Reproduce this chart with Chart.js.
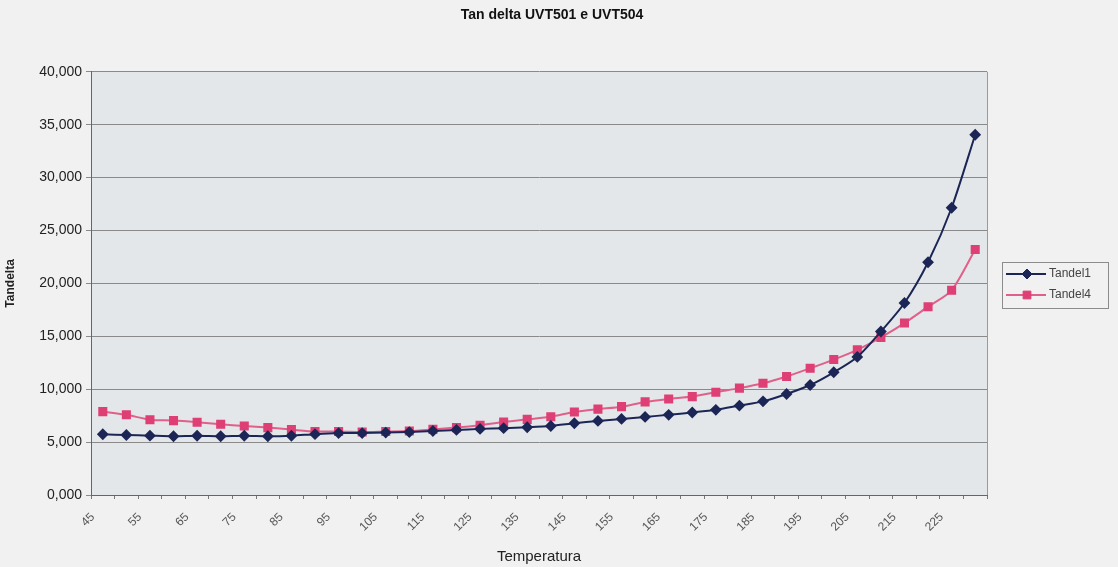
<!DOCTYPE html>
<html>
<head>
<meta charset="utf-8">
<script src="https://cdn.jsdelivr.net/npm/chart.js@4/dist/chart.umd.min.js"></script>
<style>
  html, body { margin: 0; padding: 0; background: #f1f1f1; }
  #wrap { width: 1118px; height: 567px; position: relative; }
</style>
</head>
<body>
<div id="wrap"><canvas id="c" width="1118" height="567"></canvas></div>
<script>
// Temperature steps (°C)
const temperature = [45, 50, 55, 60, 65, 70, 75, 80, 85, 90, 95, 100, 105, 110, 115, 120, 125, 130, 135,
  140, 145, 150, 155, 160, 165, 170, 175, 180, 185, 190, 195, 200, 205, 210, 215, 220, 225, 230];

// Tan delta readings
const tandel1 = [5.74, 5.67, 5.61, 5.55, 5.6, 5.55, 5.6, 5.55, 5.6, 5.75, 5.85, 5.85, 5.9, 5.95, 6.05, 6.15, 6.25, 6.32, 6.4,
  6.52, 6.78, 7.0, 7.19, 7.38, 7.58, 7.8, 8.05, 8.45, 8.85, 9.55, 10.4, 11.6, 13.05, 15.45, 18.15, 22.0, 27.15, 34.05];
const tandel4 = [7.88, 7.58, 7.12, 7.03, 6.87, 6.68, 6.52, 6.37, 6.18, 6.0, 6.0, 5.95, 6.0, 6.05, 6.2, 6.37, 6.6, 6.9, 7.15,
  7.4, 7.85, 8.12, 8.35, 8.8, 9.08, 9.3, 9.72, 10.1, 10.56, 11.2, 11.98, 12.8, 13.72, 14.9, 16.25, 17.8, 19.35, 23.2];

const seriesNames = ['Tandel1', 'Tandel4'];
const yTicks = [0, 5, 10, 15, 20, 25, 30, 35, 40];

const FONT = 'Liberation Sans, Arial, sans-serif';

// Plot area fill and right-hand frame line
const plotBg = {
  id: 'plotBg',
  beforeDraw(chart) {
    const { ctx, chartArea: a } = chart;
    ctx.save();
    ctx.fillStyle = '#e3e7e9';
    ctx.fillRect(a.left, a.top, a.right - a.left, a.bottom - a.top);
    ctx.restore();
  },
  afterDatasetsDraw(chart) {
    const { ctx, chartArea: a } = chart;
    ctx.save();
    ctx.strokeStyle = '#9a9a9a';
    ctx.lineWidth = 1;
    ctx.beginPath();
    ctx.moveTo(a.right + 0.5, a.top);
    ctx.lineTo(a.right + 0.5, a.bottom);
    ctx.stroke();
    ctx.restore();
  }
};

// Boxed legend with line + marker samples
const boxLegend = {
  id: 'boxLegend',
  afterDraw(chart) {
    const { ctx } = chart;
    const x0 = 1002, y0 = 262, w = 106, h = 46;
    ctx.save();
    ctx.strokeStyle = '#8c8c8c';
    ctx.lineWidth = 1;
    ctx.strokeRect(x0 + 0.5, y0 + 0.5, w, h);
    ctx.font = '12px ' + FONT;
    ctx.textBaseline = 'middle';
    chart.data.datasets.forEach((ds, i) => {
      const y = y0 + 12 + i * 21;
      ctx.strokeStyle = ds.borderColor;
      ctx.lineWidth = 2;
      ctx.beginPath();
      ctx.moveTo(x0 + 4, y);
      ctx.lineTo(x0 + 44, y);
      ctx.stroke();
      ctx.fillStyle = ds.pointBackgroundColor;
      ctx.strokeStyle = ds.pointBorderColor;
      ctx.lineWidth = 1;
      Chart.helpers.drawPoint(ctx, {
        pointStyle: ds.pointStyle, radius: ds.pointRadius + 0.5, rotation: 0,
        borderWidth: 1
      }, x0 + 25, y);
      ctx.fillStyle = '#444';
      ctx.fillText(ds.label, x0 + 47, y);
    });
    ctx.restore();
  }
};

new Chart(document.getElementById('c'), {
  type: 'line',
  data: {
    labels: temperature.map(String),
    datasets: [
      {
        label: seriesNames[0],
        data: tandel1,
        borderColor: '#1c2656',
        backgroundColor: '#1c2656',
        pointBackgroundColor: '#1c2656',
        pointBorderColor: '#1c2656',
        pointStyle: 'rectRot',
        pointRadius: 4.5,
        borderWidth: 2,
        tension: 0.25
      },
      {
        label: seriesNames[1],
        data: tandel4,
        borderColor: '#e0608a',
        backgroundColor: '#de3f74',
        pointBackgroundColor: '#de3f74',
        pointBorderColor: '#de3f74',
        pointStyle: 'rect',
        pointRadius: 5,
        borderWidth: 2,
        tension: 0.25
      }
    ]
  },
  options: {
    responsive: false,
    animation: false,
    events: [],
    layout: { padding: { left: 0, right: 14, top: 0, bottom: 0 } },
    plugins: {
      legend: { display: false },
      tooltip: { enabled: false },
      title: {
        display: true,
        text: 'Tan delta UVT501 e UVT504',
        color: '#111',
        font: { family: FONT, size: 14, weight: 'bold', lineHeight: 1.2 },
        padding: { top: 7, bottom: 48 }
      }
    },
    scales: {
      x: {
        offset: true,
        grid: { drawOnChartArea: false, drawTicks: true, tickLength: 4, color: '#777', offset: true },
        border: { display: true, color: '#666', width: 1 },
        ticks: {
          autoSkip: false,
          maxRotation: 45,
          minRotation: 45,
          color: '#555',
          font: { family: FONT, size: 12 },
          padding: 11,
          labelOffset: -10,
          callback(value, index) { return index % 2 === 0 ? temperature[index] : ''; }
        },
        title: {
          display: true,
          text: 'Temperatura',
          color: '#222',
          font: { family: FONT, size: 15 },
          padding: { top: 0, bottom: 1 }
        },
        afterFit(scale) { scale.height = 72; }
      },
      y: {
        min: 0,
        max: 40,
        afterBuildTicks(scale) { scale.ticks = yTicks.map(v => ({ value: v })); },
        grid: { color: '#8a8a8a', lineWidth: 1, drawTicks: true, tickLength: 5 },
        border: { display: true, color: '#666', width: 1 },
        ticks: {
          color: '#222',
          font: { family: FONT, size: 14 },
          padding: 4,
          callback(value) { return value.toFixed(3).replace('.', ','); }
        },
        title: {
          display: true,
          text: 'Tandelta',
          color: '#222',
          font: { family: FONT, size: 12, weight: 'bold' },
          padding: { top: 3, bottom: 0 }
        },
        afterFit(scale) { scale.width = 91; }
      },
      // empty right-hand axis reserving the legend column
      side: {
        position: 'right',
        display: true,
        grid: { display: false, drawTicks: false },
        border: { display: false },
        ticks: { display: false },
        afterFit(scale) { scale.width = 117; }
      }
    }
  },
  plugins: [plotBg, boxLegend]
});
</script>
</body>
</html>
